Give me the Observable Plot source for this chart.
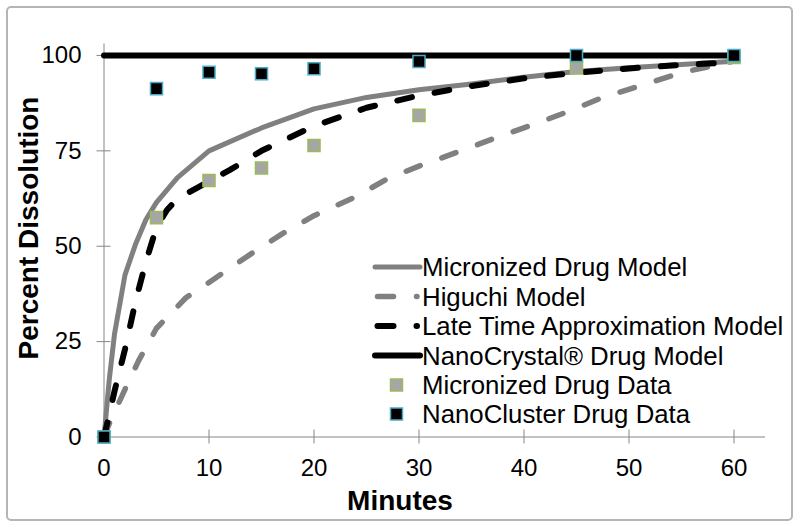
<!DOCTYPE html>
<html><head><meta charset="utf-8">
<script src="https://cdn.jsdelivr.net/npm/d3@7"></script>
<script src="https://cdn.jsdelivr.net/npm/@observablehq/plot@0.6"></script>
<style>
html,body{margin:0;padding:0;background:#fff;}
#wrap{position:relative;width:800px;height:528px;font-family:"Liberation Sans",Arial,sans-serif;}
#frame{position:absolute;left:6px;top:6px;width:787px;height:515px;box-sizing:border-box;border:2px solid #b5b5b5;border-radius:5px;}
#plot{position:absolute;left:0;top:0;}
#overlay{position:absolute;left:0;top:0;pointer-events:none;}
</style>
</head><body>
<div id="wrap"><div id="frame"></div><div id="plot"></div><svg id="overlay" width="800" height="528"></svg></div>
<script>
// Tick values
const xTicks = [0, 10, 20, 30, 40, 50, 60];
const yTicks = [0, 25, 50, 75, 100];

// Micronized Drug Model (solid gray)
const microModelT = [0, 0.5, 1, 2, 3, 4, 5, 7, 10, 15, 20, 25, 30, 35, 40, 45, 50, 55, 60];
const microModelY = [0, 15, 27, 42.5, 50.5, 57, 61.5, 68, 75, 81, 86, 89, 91, 92.5, 94.3, 95.8, 96.8, 97.6, 98.5];

// Higuchi Model (gray dashed)
const higuchiT = [0, 0.5, 2, 3.3, 5, 7.8, 10, 14, 17, 20, 24, 27, 30, 34, 37.5, 41, 44.5, 47.5, 51, 55, 60];
const higuchiY = [0, 3.5, 12.5, 20, 28.5, 36.5, 40.5, 48, 53.3, 58, 63, 67.7, 71, 75, 78.6, 82, 85.6, 89, 92, 95.5, 98.5];

// Late Time Approximation Model (black dashed)
const lateT = [0, 0.3, 1, 2, 3, 4, 5, 6, 7, 9, 12, 15, 20, 25, 30, 35, 40, 45, 50, 55, 60];
const lateY = [0, 3.5, 12, 23, 35.5, 46, 55, 59.5, 62.5, 65.5, 70, 75, 81.5, 86.3, 89.5, 92, 94, 95.5, 96.6, 97.5, 98.2];

// NanoCrystal Drug Model (black solid)
const nanoModelT = [0, 60];
const nanoModelY = [100, 100];

// Measured data
const dataT = [0, 5, 10, 15, 20, 30, 45, 60];
const microDataY = [0, 57.5, 67.2, 70.5, 76.4, 84.3, 96.7, 99.5];
const nanoDataY = [0, 91.3, 95.6, 95.2, 96.5, 98.4, 100, 100];

const seriesNames = [
  "Micronized Drug Model",
  "Higuchi Model",
  "Late Time Approximation Model",
  "NanoCrystal\u00AE Drug Model",
  "Micronized Drug Data",
  "NanoCluster Drug Data"
];

const rows = (t, y) => t.map((d, i) => ({t: d, y: y[i]}));
const axisGray = "#868686";
const font = '"Liberation Sans", Arial, sans-serif';
const dashPattern = "15,23";

const chart = Plot.plot({
  width: 800, height: 528,
  marginLeft: 103.5, marginRight: 35, marginTop: 43.5, marginBottom: 91.5,
  x: {domain: [0, 63]},
  y: {domain: [0, 103]},
  style: {fontFamily: font, fontSize: "24px", color: "#000", background: "transparent", overflow: "visible"},
  marks: [
    Plot.ruleY([0], {stroke: axisGray}),
    Plot.ruleX([0], {stroke: axisGray}),
    Plot.axisX({ticks: xTicks, tickSize: 14, dy: -7, fill: "none", stroke: axisGray, label: null}),
    Plot.axisX({ticks: xTicks, tickSize: 0, tickPadding: 22, fill: "#000", label: null, tickFormat: d => String(d)}),
    Plot.axisY({ticks: yTicks, tickSize: 14, dx: 7, fill: "none", stroke: axisGray, label: null}),
    Plot.axisY({ticks: yTicks, tickSize: 0, tickPadding: 22.5, fill: "#000", label: null, tickFormat: d => String(d)}),
    Plot.line(rows(microModelT, microModelY), {x: "t", y: "y", stroke: "#808080", strokeWidth: 5}),
    Plot.line(rows(higuchiT, higuchiY), {x: "t", y: "y", stroke: "#808080", strokeWidth: 5.5, strokeDasharray: dashPattern, strokeLinecap: "round"}),
    Plot.line(rows(lateT, lateY), {x: "t", y: "y", stroke: "#000", strokeWidth: 6, strokeDasharray: dashPattern, strokeLinecap: "round"}),
    Plot.line(rows(nanoModelT, nanoModelY), {x: "t", y: "y", stroke: "#000", strokeWidth: 6}),
    Plot.dot(rows(dataT, microDataY), {x: "t", y: "y", symbol: "square", r: 6.8, fill: "#a6a6a6", stroke: "#9bbb59", strokeWidth: 1.5}),
    Plot.dot(rows(dataT, nanoDataY), {x: "t", y: "y", symbol: "square", r: 6.8, fill: "#000", stroke: "#4bacc6", strokeWidth: 1.5})
  ]
});
document.getElementById("plot").appendChild(chart);

// Overlay: axis titles and legend
const svg = d3.select("#overlay");
svg.append("text").attr("transform", "translate(38,228) rotate(-90)")
  .attr("text-anchor", "middle").attr("font-family", font).attr("font-weight", "bold")
  .attr("font-size", 28).text("Percent Dissolution");
svg.append("text").attr("x", 400).attr("y", 510)
  .attr("text-anchor", "middle").attr("font-family", font).attr("font-weight", "bold")
  .attr("font-size", 28).text("Minutes");

const legendBase = [276, 305.5, 335, 364.5, 394, 423];
const legendStyle = [
  {type: "line", stroke: "#808080", w: 5, dash: null, x1: 375, x2: 420},
  {type: "line", stroke: "#808080", w: 5.5, dash: "16,23", x1: 377.5, x2: 417},
  {type: "line", stroke: "#000", w: 6, dash: "16,23", x1: 377.5, x2: 417},
  {type: "line", stroke: "#000", w: 6, dash: null, x1: 375, x2: 420},
  {type: "sq", fill: "#a6a6a6", stroke: "#9bbb59"},
  {type: "sq", fill: "#000", stroke: "#4bacc6"}
];
seriesNames.forEach((name, i) => {
  const st = legendStyle[i];
  const cy = legendBase[i] - 9;
  if (st.type === "line") {
    const l = svg.append("line").attr("x1", st.x1).attr("x2", st.x2).attr("y1", cy).attr("y2", cy)
      .attr("stroke", st.stroke).attr("stroke-width", st.w).attr("stroke-linecap", "round");
    if (st.dash) l.attr("stroke-dasharray", st.dash);
  } else {
    svg.append("rect").attr("x", 396.5 - 6).attr("y", cy - 6).attr("width", 12).attr("height", 12)
      .attr("fill", st.fill).attr("stroke", st.stroke).attr("stroke-width", 1.5);
  }
  svg.append("text").attr("x", 422).attr("y", legendBase[i]).attr("font-family", font)
    .attr("font-size", 25.8).attr("fill", "#000").text(name);
});
</script>
</body></html>
